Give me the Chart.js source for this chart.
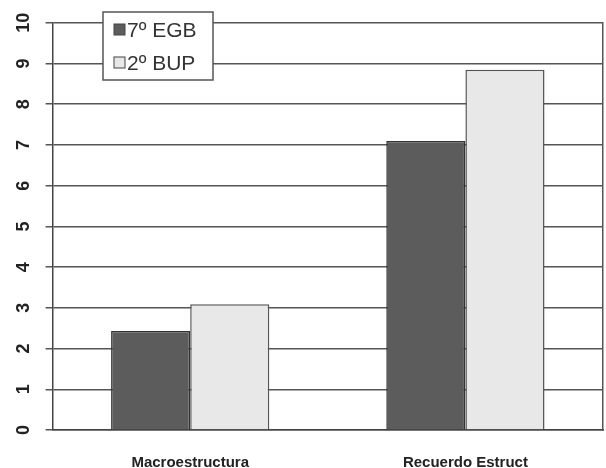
<!DOCTYPE html>
<html>
<head>
<meta charset="utf-8">
<script src="https://cdn.jsdelivr.net/npm/chart.js@4/dist/chart.umd.min.js"></script>
<style>
  html, body { margin: 0; padding: 0; background: #fff; }
  #wrap { width: 606px; height: 468px; }
</style>
</head>
<body>
<div id="wrap"><canvas id="chart"></canvas></div>
<script>
// datos
const categories = ["Macroestructura", "Recuerdo Estruct"];
const egb7 = [2.43, 7.1];
const bup2 = [3.09, 8.85];
const seriesNames = ["7º EGB", "2º BUP"];
const yTicks = [0, 1, 2, 3, 4, 5, 6, 7, 8, 9, 10];

// leyenda con recuadro dentro del area del grafico
const boxLegend = {
  id: "boxLegend",
  afterDraw(chart) {
    const c = chart.ctx;
    const x = 103, y = 12, w = 110, h = 68;
    c.save();
    c.fillStyle = "#fff";
    c.fillRect(x, y, w, h);
    c.strokeStyle = "#555";
    c.lineWidth = 1.5;
    c.strokeRect(x, y, w, h);
    c.font = "21px 'Liberation Sans', Arial, sans-serif";
    c.textBaseline = "middle";
    chart.data.datasets.forEach((ds, i) => {
      const ly = y + 18 + i * 33;
      c.fillStyle = ds.backgroundColor;
      c.fillRect(x + 11, ly - 6, 11, 11);
      c.strokeStyle = "#444";
      c.lineWidth = 1;
      c.strokeRect(x + 11, ly - 6, 11, 11);
      c.fillStyle = "#333";
      c.fillText(ds.label, x + 24, ly + 1);
    });
    c.restore();
  },
};

new Chart(document.getElementById("chart"), {
  type: "bar",
  data: {
    labels: categories,
    datasets: [
      {
        label: seriesNames[0],
        data: egb7,
        backgroundColor: "#5c5c5c",
        borderColor: "#333",
        borderWidth: 1.5,
        borderSkipped: "bottom",
      },
      {
        label: seriesNames[1],
        data: bup2,
        backgroundColor: "#e8e8e8",
        borderColor: "#555",
        borderWidth: 1.5,
        borderSkipped: "bottom",
      },
    ],
  },
  options: {
    responsive: true,
    maintainAspectRatio: false,
    animation: false,
    layout: {
      padding: { left: 0, right: -5, top: 18, bottom: -20 },
    },
    datasets: {
      bar: { categoryPercentage: 0.575, barPercentage: 1 },
    },
    scales: {
      x: {
        grid: { display: false },
        border: { display: true, color: "#444", width: 1.5 },
        ticks: {
          color: "#222",
          padding: 16,
          font: { family: "'Liberation Sans', Arial, sans-serif", size: 15, weight: "bold" },
        },
      },
      y: {
        min: 0,
        max: 10,
        afterBuildTicks: (scale) => {
          scale.ticks = yTicks.map((v) => ({ value: v }));
        },
        grid: { color: "#555", lineWidth: 1.5, tickLength: 7 },
        border: { display: true, color: "#444", width: 1.5 },
        ticks: {
          color: "#222",
          minRotation: 90,
          maxRotation: 90,
          crossAlign: "center",
          padding: 12,
          font: { family: "'Liberation Sans', Arial, sans-serif", size: 18, weight: "bold" },
        },
      },
      y2: {
        position: "right",
        min: 0,
        max: 10,
        grid: { display: false },
        border: { display: true, color: "#555", width: 1.5 },
        ticks: { display: false },
      },
    },
    plugins: {
      legend: { display: false },
      tooltip: { enabled: false },
    },
  },
  plugins: [boxLegend],
});
</script>
</body>
</html>
